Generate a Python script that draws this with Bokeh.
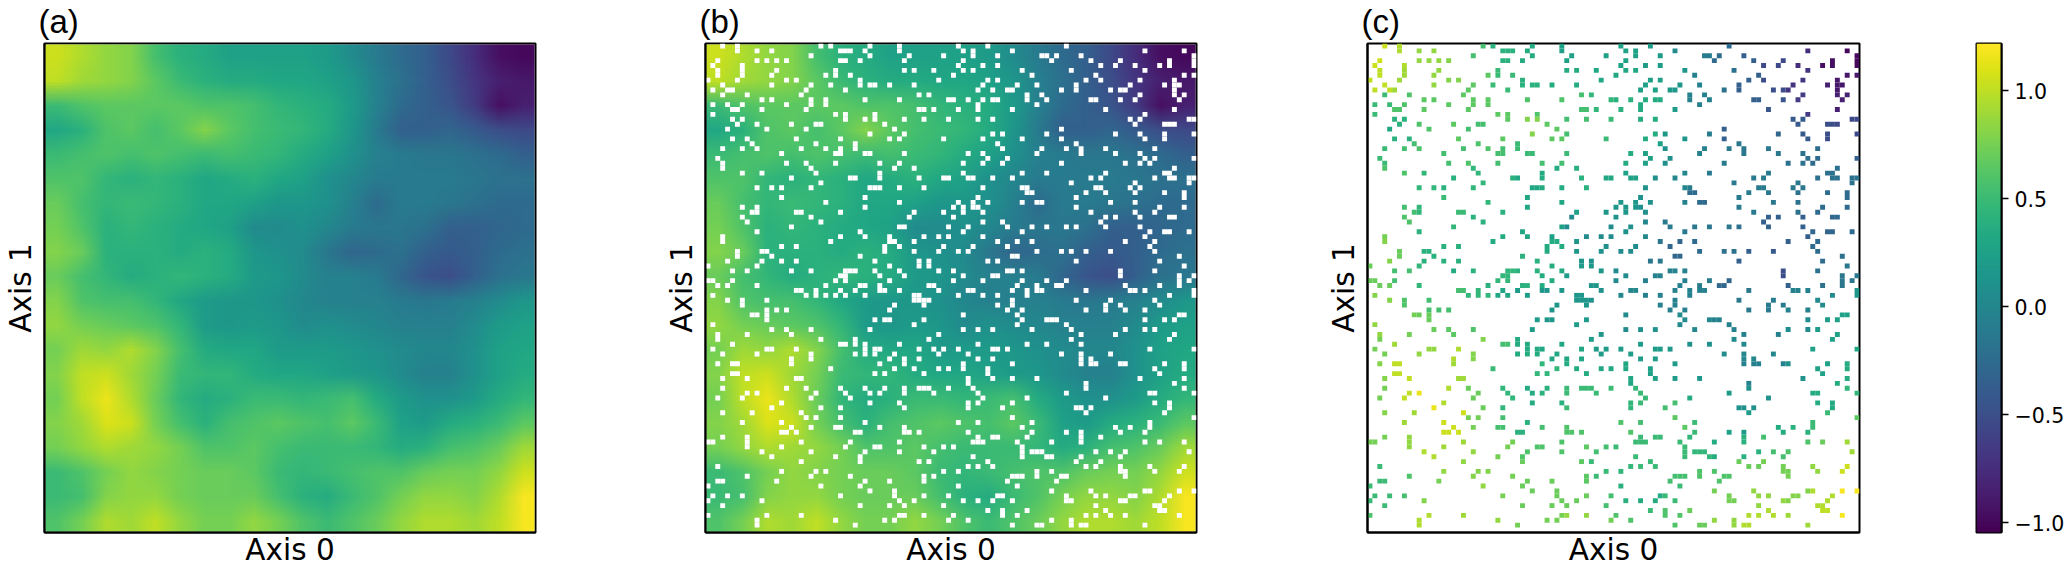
from bokeh.plotting import figure
from bokeh.layouts import row
from bokeh.models import LinearColorMapper, ColumnDataSource, FixedTicker
from bokeh.transform import transform
from bokeh.palettes import Viridis256
from bokeh.embed import file_html
from bokeh.resources import INLINE
import numpy as np
import base64, struct, zlib

panel_titles = ["(a)", "(b)", "(c)"]
x_label = "Axis 0"
y_label = "Axis 1"
value_low = -1.046
value_high = 1.22
bar_ticks = [-1.0, -0.5, 0.0, 0.5, 1.0]
bar_labels = {-1.0: "\u22121.0", -0.5: "\u22120.5", 0.0: "0.0", 0.5: "0.5", 1.0: "1.0"}

# field, coarse blocks, first row is the top of the picture
field = [
 [1.05,0.95,0.85,0.8,0.55,0.4,0.35,0.25,0.25,0.25,0.25,0.2,0.05,-0.1,-0.25,-0.35,-0.55,-0.75,-0.95,-1.0],
 [1.0,0.9,0.85,0.8,0.65,0.5,0.4,0.35,0.35,0.3,0.3,0.25,0.15,-0.05,-0.2,-0.35,-0.5,-0.7,-0.85,-0.9],
 [0.5,0.6,0.65,0.65,0.65,0.65,0.6,0.6,0.55,0.45,0.4,0.35,0.2,-0.05,-0.25,-0.35,-0.45,-0.65,-0.95,-0.85],
 [0.3,0.4,0.6,0.65,0.55,0.65,0.8,0.65,0.55,0.5,0.45,0.35,0.15,-0.1,-0.35,-0.35,-0.3,-0.4,-0.5,-0.55],
 [0.5,0.55,0.6,0.55,0.6,0.55,0.5,0.55,0.5,0.45,0.35,0.25,0.1,-0.05,-0.1,-0.15,-0.15,-0.2,-0.25,-0.35],
 [0.6,0.6,0.45,0.4,0.45,0.4,0.3,0.35,0.4,0.3,0.25,0.1,0.0,-0.1,-0.1,-0.1,-0.1,-0.15,-0.2,-0.2],
 [0.7,0.55,0.45,0.5,0.45,0.4,0.3,0.3,0.25,0.15,0.15,0.1,-0.05,-0.25,-0.1,-0.1,-0.15,-0.2,-0.25,-0.25],
 [0.75,0.6,0.4,0.45,0.4,0.35,0.3,0.25,0.05,0.05,0.1,0.0,-0.1,-0.15,-0.15,-0.2,-0.35,-0.35,-0.3,-0.25],
 [0.8,0.7,0.4,0.4,0.4,0.35,0.4,0.35,0.15,0.1,0.05,-0.15,-0.3,-0.25,-0.2,-0.35,-0.4,-0.35,-0.25,-0.2],
 [0.7,0.55,0.45,0.35,0.4,0.45,0.4,0.35,0.2,0.15,0.05,-0.05,-0.05,-0.1,-0.3,-0.45,-0.5,-0.35,-0.2,-0.15],
 [0.8,0.6,0.55,0.55,0.45,0.3,0.2,0.15,0.15,0.1,0.0,-0.05,-0.05,-0.05,-0.1,-0.15,-0.1,-0.05,0.05,0.15],
 [0.85,0.75,0.7,0.65,0.6,0.45,0.2,0.15,0.2,0.15,0.05,0.1,0.05,0.0,-0.05,-0.05,-0.05,0.05,0.2,0.25],
 [0.75,0.9,0.85,0.95,0.8,0.55,0.35,0.3,0.3,0.2,0.2,0.2,0.15,0.1,0.05,0.0,0.0,0.1,0.25,0.3],
 [0.8,1.0,1.05,0.9,0.75,0.5,0.45,0.45,0.35,0.3,0.3,0.25,0.2,0.15,0.05,-0.05,-0.05,0.1,0.25,0.35],
 [0.75,1.0,1.15,0.95,0.7,0.45,0.35,0.4,0.5,0.5,0.45,0.5,0.55,0.35,0.2,0.1,0.1,0.2,0.35,0.45],
 [0.8,0.9,1.1,1.05,0.75,0.55,0.4,0.55,0.6,0.65,0.6,0.55,0.65,0.5,0.25,0.2,0.35,0.4,0.5,0.65],
 [0.75,0.85,0.95,0.9,0.85,0.75,0.6,0.6,0.65,0.55,0.5,0.5,0.5,0.45,0.35,0.4,0.55,0.6,0.7,0.9],
 [0.5,0.6,0.75,0.85,0.8,0.75,0.7,0.7,0.65,0.5,0.45,0.5,0.55,0.6,0.6,0.7,0.75,0.75,0.85,1.05],
 [0.5,0.55,0.8,0.85,0.85,0.75,0.7,0.7,0.7,0.55,0.4,0.35,0.5,0.6,0.75,0.85,0.85,0.8,0.95,1.2],
 [0.6,0.75,0.95,0.9,1.0,0.85,0.75,0.75,0.85,0.75,0.6,0.5,0.6,0.7,0.85,0.95,0.95,0.9,1.0,1.2],
]

# columns of the observed cells on the 100 x 100 grid, one list per row from the top
observed = [
 [3,6,23,25,33,39,51,57,73],
 [6,10,13,27,28,29,32,39,52,54,62,89,97],
 [21,33,41,48,54,59,68,69,71,76,99],
 [2,10,12,14,16,27,28,31,40,52,70,78,84,94,99],
 [1,7,51,56,59,80,83,87,92,94,99],
 [2,7,14,26,40,42,46,52,54,64,74,89],
 [2,7,13,24,26,29,50,66,79,97,99],
 [0,6,16,18,31,47,57,59,77,80,88,95],
 [3,13,21,25,31,33,34,37,42,56,63,67,75,86,93,95,96],
 [1,4,5,20,28,55,58,61,62,72,75,82,84,85,95],
 [3,8,19,43,45,65,68,88,95,97],
 [11,13,21,24,32,39,49,50,53,56,58,59,65,69,78,79,84,87,96],
 [1,4,7,16,21,24,55,67],
 [5,6,11,20,43,44,46,51,55,62,81,95],
 [1,26,28,34,89],
 [5,7,28,32,34,40,44,49,55,58,86,88,98,99],
 [6,10,17,22,23,36,87,93,94,95],
 [4,12,20,38,72],
 [33,40,58,60,69,83,88,93,99],
 [5,8,18,27,37,39,48,56,64,72,89,93],
 [9,22,30,59,75],
 [3,7,10,19,24,27,30,60,68,73,76,81,91],
 [15,26,27,32,33,40,53,56,67,76,83,88],
 [2,57,61,89,91,99],
 [3,16,20,26,35,39,52,56,60,72,85,88,90],
 [3,21,38,42,95],
 [7,11,22,35,52,64,69,81,93,94],
 [17,29,30,35,43,48,49,53,54,58,62,78,80,91,94,95,98,99],
 [23,74,87,98],
 [10,13,15,21,33,34,35,39,44,56,64,65,79,80,86,88],
 [65,66,77,81,87,93,97],
 [15,32,55,75,97],
 [24,39,51,54,57,64,67,68,82,87],
 [7,10,32,50,52,54,55,75,92,97],
 [9,10,18,19,27,42,48,52,56,78,87,91],
 [7,21,41,50,81,83,88,94,95],
 [8,23,56,60,80],
 [17,39,40,49,53,61,66,69,73,75,81,88],
 [10,31,52,64,90,93,94,98],
 [3,27,32,37,44,47,49,56,89],
 [3,25,37,38,42,59,63,66,85,91],
 [15,18,36,39,48,54,61,90],
 [6,11,12,36,42,47,51,53,67,72,74,77,82,91],
 [6,13,31,62,63,96],
 [4,11,15,18,34,43,45,57,59,75,92],
 [0,10,37,43,45,97],
 [5,8,17,21,28,29,30,34,39,47,50,61,62,64,84,91],
 [27,28,35,40,52,58,59,84,96,99],
 [0,1,5,26,28,37,50,56,64,69,73,96,98],
 [2,4,10,24,31,32,35,45,46,63,67,71,72,85,92,96],
 [18,19,22,27,30,35,36,39,47,53,54,62,65,67,68,77,86,87,89,99],
 [1,20,22,24,26,28,32,42,43,51,56,59,65,94,99],
 [4,7,12,42,43,44,45,62,75,82,91],
 [7,38,44,59,62,81,84,92],
 [12,14,16,37,61,64,77,81,85,89],
 [9,10,12,52,63,96,97],
 [12,34,36,37,44,64,69,70,71,89,93,95],
 [1,42,63,73],
 [13,16,21,33,52,55,58,66,74,85,89,91],
 [2,8,17,47,76,83,95],
 [2,23,30,45,74,94],
 [5,27,28,30,32,39,55,65,69,76],
 [1,12,13,18,32,34,35,43,46,48,51,58,59,61,90,99],
 [3,10,21,30,32,34,38,47,53,72,76,82],
 [17,21,37,40,43,55,58,76,78],
 [2,5,6,17,35,40,52,62,76,78,79,84,85,93,97],
 [25,38,42,47,49,52,57,91,97],
 [5,6,34,36,44,57,92],
 [3,8,18,19,53,58,62,67,88,97],
 [53,77,95],
 [3,16,20,27,32,36,40,43,44,45,49,54,77,97],
 [8,10,22,28,33,35,40,46,55,73,90,91,99],
 [2,7,21,29,56,65,81],
 [15,33,39,53,55,62,91,94],
 [13,23,27,40,53,60,75,76,78,94],
 [3,9,19,77,93],
 [20,22,27,62,99],
 [7,15,32,51,55,66,90],
 [17,21,26,27,35,40,64,83,86,90],
 [15,16,18,30,31,40,41,43,53,66,73,76,84,89],
 [3,8,55,58,59,65,76,80],
 [0,1,8,19,29,39,54,55,56,63,70,76,89,92,97],
 [8,15,28,34,35,44,48,50,64],
 [11,21,32,39,46,64,66,67,68,79,82,85,98],
 [13,26,31,54,64,69,70,76,84],
 [19,31,43,45,57,75,80],
 [2,53,55,58,77,79,84,90,97],
 [15,22,24,48,51,67,70,84,85,91,96],
 [8,21,29,44,46,62,63,64,67,72,73,85],
 [2,3,14,32,37,44,61,71],
 [0,23,31,51,63],
 [33,38,70,78,89,90,96,99],
 [1,4,7,27,38,44,49,59,60,73,79,81,86,87,94],
 [0,11,39,42,52,55,58,62,73,74,84,85,93],
 [3,31,37,40,48,79,91,92],
 [57,60,65,81,92,93],
 [0,12,19,39,40,44,50,60,63,77,79,82,85,96],
 [10,26,36,38,49,53,70,74],
 [10,30,62,67,68,74,76,77,89],
 [],
]

field_arr = np.array(field, dtype=float)
n_block = field_arr.shape[0]
cell_x, cell_y, cell_v = [], [], []
for r, cols in enumerate(observed):
    for c in cols:
        cell_x.append(c + 0.5)
        cell_y.append(99.5 - r)
        cell_v.append(field_arr[r * n_block // 100, c * n_block // 100])
cells = ColumnDataSource(data=dict(x=cell_x, y=cell_y, v=cell_v))

mapper = LinearColorMapper(palette=Viridis256, low=value_low, high=value_high)


def field_png(arr):
    """The field as a small PNG, coloured with the same palette and limits as the mapper."""
    rgb = np.array([[int(h[i:i + 2], 16) for i in (1, 3, 5)] for h in Viridis256], dtype=np.uint8)
    idx = np.clip(((arr - value_low) / (value_high - value_low) * 256).astype(int), 0, 255)
    px = rgb[idx]
    raw = b"".join(b"\x00" + px[i].tobytes() for i in range(px.shape[0]))

    def chunk(tag, data):
        return struct.pack(">I", len(data)) + tag + data + struct.pack(">I", zlib.crc32(tag + data) & 0xffffffff)
    png = (b"\x89PNG\r\n\x1a\n"
           + chunk(b"IHDR", struct.pack(">IIBBBBB", px.shape[1], px.shape[0], 8, 2, 0, 0, 0))
           + chunk(b"IDAT", zlib.compress(raw))
           + chunk(b"IEND", b""))
    return "data:image/png;base64," + base64.b64encode(png).decode()


field_url = field_png(field_arr)
FIG_H = 569
TOP = 42
BOTTOM = 36


def panel(title, width, left, right):
    p = figure(width=width, height=FIG_H, x_range=(0, 100), y_range=(0, 100),
               toolbar_location=None, output_backend="svg",
               min_border_left=left, min_border_right=right,
               min_border_top=TOP, min_border_bottom=BOTTOM,
               title=title, background_fill_color="white")
    p.title.text_font = "Liberation Sans"
    p.title.text_font_size = "33px"
    p.title.text_font_style = "normal"
    p.title.text_color = "black"
    p.title.vertical_align = "top"
    p.title.offset = -6
    p.title.standoff = 4
    p.grid.visible = False
    p.xaxis.axis_label = x_label
    p.yaxis.axis_label = y_label
    for ax in (p.xaxis[0], p.yaxis[0]):
        ax.ticker = FixedTicker(ticks=[])
        ax.major_tick_line_color = None
        ax.minor_tick_line_color = None
        ax.axis_line_color = "black"
        ax.axis_line_width = 2
        ax.axis_label_text_font = "DejaVu Sans"
        ax.axis_label_text_font_size = "29.5px"
        ax.axis_label_text_font_style = "normal"
        ax.axis_label_text_color = "black"
    p.xaxis.axis_label_standoff = 0
    p.yaxis.axis_label_standoff = 7
    p.outline_line_color = "black"
    p.outline_line_width = 2
    p.outline_line_alpha = 1
    return p


pa = panel(panel_titles[0], 661, 44, 126)
pa.image_url(url=[field_url], x=0, y=0, w=100, h=100, anchor="bottom_left")

pb = panel(panel_titles[1], 662, 44, 127)
pb.image_url(url=[field_url], x=0, y=0, w=100, h=100, anchor="bottom_left")
pb.rect(x="x", y="y", width=1, height=1, source=cells, fill_color="white", line_color=None)

pc = panel(panel_titles[2], 577, 44, 41)
pc.rect(x="x", y="y", width=1, height=1, source=cells,
        fill_color=transform("v", mapper), line_color=None)

bar = figure(width=167, height=FIG_H, x_range=(0, 1), y_range=(value_low, value_high),
             toolbar_location=None, output_backend="svg", y_axis_location="right",
             min_border_left=76, min_border_right=65, min_border_top=TOP, min_border_bottom=BOTTOM)
bar.grid.visible = False
bar.xaxis.visible = False
bar_values = np.linspace(value_low, value_high, 256).reshape(256, 1)
bar.image(image=[bar_values], x=0, y=value_low, dw=1, dh=value_high - value_low, color_mapper=mapper)
bar.yaxis.ticker = FixedTicker(ticks=bar_ticks)
bar.yaxis.major_label_overrides = bar_labels
bar.yaxis.major_label_text_font = "DejaVu Sans"
bar.yaxis.major_label_text_font_size = "20.5px"
bar.yaxis.major_label_text_color = "black"
bar.yaxis.major_label_standoff = 6
bar.yaxis.major_tick_out = 7
bar.yaxis.major_tick_in = 0
bar.yaxis.major_tick_line_color = "black"
bar.yaxis.major_tick_line_width = 1.5
bar.yaxis.minor_tick_line_color = None
bar.yaxis.axis_line_color = "black"
bar.yaxis.axis_line_width = 2
bar.outline_line_color = "black"
bar.outline_line_width = 2
bar.outline_line_alpha = 1

layout = row(pa, pb, pc, bar, spacing=0)
open("out.html", "w").write(file_html(layout, INLINE))
